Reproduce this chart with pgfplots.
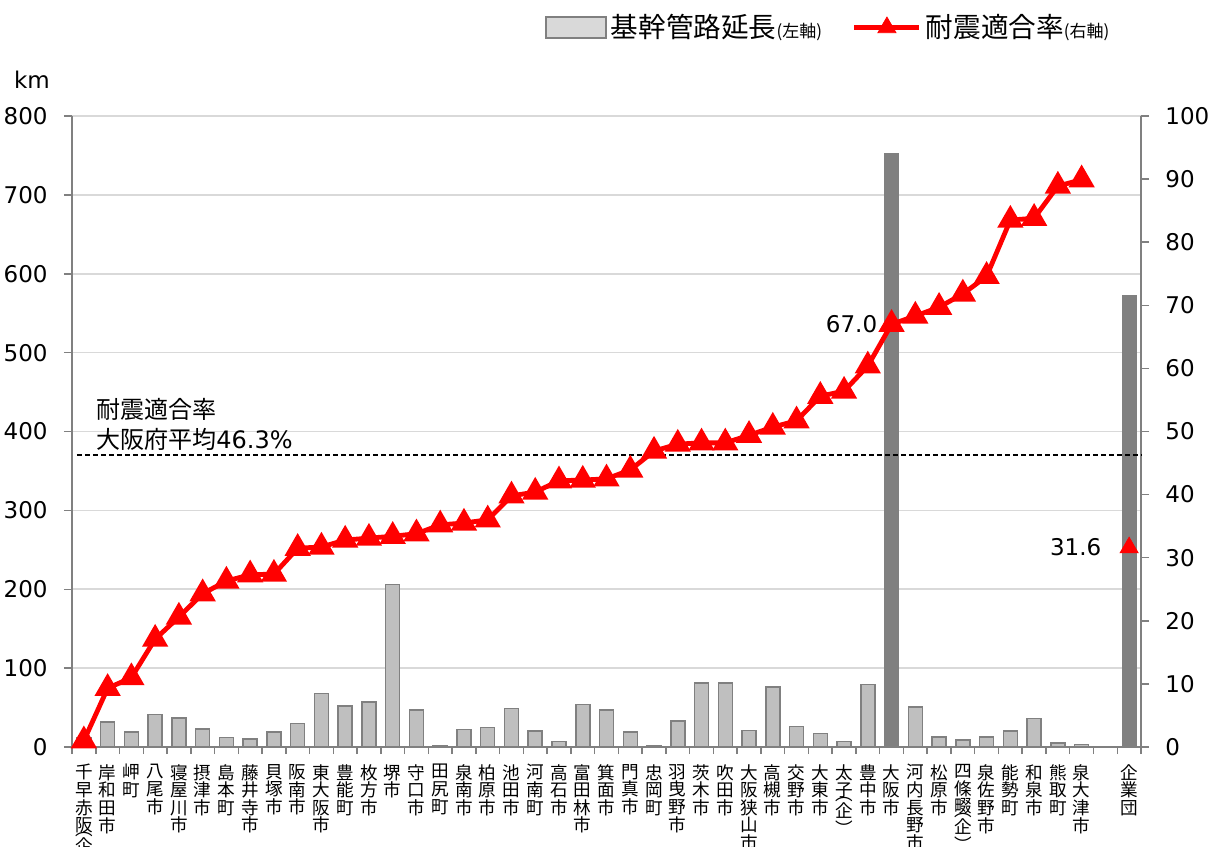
\documentclass[border=0pt]{standalone}
\usepackage{fontspec}
\setmainfont{DejaVu Sans}
\newfontfamily\jp{Noto Sans CJK JP}
\usepackage{pgfplots}
\pgfplotsset{compat=1.18}
\usepackage{pgfplotstable}

% km of trunk mains (left axis), light bars
\pgfplotstableread{
x km
1 12
2 32
3 19
4 41
5 37
6 23
7 12
8 10
9 19
10 30
11 68
12 52
13 57
14 206
15 47
16 2
17 22
18 25
19 49
20 20
21 7
22 54
23 47
24 19
25 1
26 33
27 81
28 81
29 21
30 76
31 26
32 17
33 7
34 79
36 51
37 13
38 9
39 13
40 20
41 36
42 5
43 3
}\lightbars

% highlighted bars (Osaka city, corporation)
\pgfplotstableread{
x km
35 752
45 572
}\darkbars

% seismic conformity rate (right axis)
\pgfplotstableread{
x rate
1 1.0
2 9.3
3 11.0
4 17.1
5 20.6
6 24.3
7 26.3
8 27.3
9 27.4
10 31.5
11 31.7
12 32.8
13 33.1
14 33.4
15 33.8
16 35.2
17 35.5
18 36.0
19 39.8
20 40.4
21 42.2
22 42.3
23 42.5
24 43.9
25 46.9
26 48.0
27 48.2
28 48.2
29 49.4
30 50.7
31 51.7
32 55.6
33 56.4
34 60.4
35 67.0
36 68.3
37 69.7
38 71.8
39 74.6
40 83.5
41 83.8
42 88.9
43 89.9
}\rate

\pgfplotstableread{
x rate
45 31.6
}\rateB

\pgfplotsset{
  common/.style={
    at={(0,0)}, anchor=south west,
    scale only axis, width=534.5pt, height=315.5pt,
    xmin=0.5, xmax=45.5, clip=false,
    axis line style={draw=black!50, line width=0.75pt},
    tick style={draw=black!50, line width=0.75pt},
    tick align=outside, major tick length=4pt,
    /pgf/number format/assume math mode=true,
    yticklabel style={font=\fontsize{11.5}{12}\selectfont},
  },
}

\begin{document}
\begin{tikzpicture}
\begin{axis}[
  common,
  ymin=0, ymax=800, ytick={0,100,...,800},
  axis x line*=bottom, axis y line*=left,
  ymajorgrids, grid style={draw=black!15, line width=0.8pt},
  yticklabel style={xshift=-4.7pt},
  xtick={1,...,45}, minor xtick={0.5,1.5,...,45.5}, minor tick length=3.5pt,
  major x tick style={draw=none},
  xticklabels={
    {千\\早\\赤\\阪\\[-7pt]︵\\企\\︶},
    {岸\\和\\田\\市}, {岬\\町}, {八\\尾\\市}, {寝\\屋\\川\\市}, {摂\\津\\市},
    {島\\本\\町}, {藤\\井\\寺\\市}, {貝\\塚\\市}, {阪\\南\\市}, {東\\大\\阪\\市},
    {豊\\能\\町}, {枚\\方\\市}, {堺\\市}, {守\\口\\市}, {田\\尻\\町},
    {泉\\南\\市}, {柏\\原\\市}, {池\\田\\市}, {河\\南\\町}, {高\\石\\市},
    {富\\田\\林\\市}, {箕\\面\\市}, {門\\真\\市}, {忠\\岡\\町}, {羽\\曳\\野\\市},
    {茨\\木\\市}, {吹\\田\\市}, {大\\阪\\狭\\山\\市}, {高\\槻\\市}, {交\\野\\市},
    {大\\東\\市}, {太\\子\\[-7pt]︵\\企\\︶}, {豊\\中\\市}, {大\\阪\\市},
    {河\\内\\長\\野\\市}, {松\\原\\市}, {四\\條\\畷\\[-7pt]︵\\企\\︶},
    {泉\\佐\\野\\市}, {能\\勢\\町}, {和\\泉\\市}, {熊\\取\\町}, {泉\\大\\津\\市},
    {}, {企\\業\\団}},
  xticklabel style={font=\jp\fontsize{8.8}{8.8}\selectfont, align=center,
    anchor=north, inner sep=0pt, yshift=-4.5pt},
  legend columns=2,
  legend cell align=left,
  legend style={at={(axis description cs:0.4425,1.1403)}, anchor=west,
    draw=none, fill=none, inner sep=0pt,
    font=\jp\fontsize{13.8}{14}\selectfont,
    /tikz/every even column/.append style={column sep=13pt}},
]
\addlegendimage{legend image code/.code={
  \draw[fill=black!15, draw=black!50, line width=0.75pt] (0pt,-5.25pt) rectangle (30pt,5.25pt);}}
\addlegendentry{基幹管路延長{\fontsize{8.5}{9}\selectfont(左軸)}}
\addlegendimage{legend image code/.code={
  \draw[red, line width=2.4pt] (0pt,0pt) -- (32.5pt,0pt);
  \draw[red, mark=triangle*, mark size=5.2pt] plot coordinates {(16.25pt,0pt)};}}
\addlegendentry{耐震適合率{\fontsize{8.5}{9}\selectfont(右軸)}}

\addplot[forget plot, ybar, bar width=7pt, bar shift=0pt, fill=black!25, draw=black!50, line width=0.75pt]
  table[x=x, y=km] {\lightbars};
\addplot[forget plot, ybar, bar width=7pt, bar shift=0pt, fill=black!50, draw=black!50, line width=0.5pt]
  table[x=x, y=km] {\darkbars};

\node[font=\fontsize{11.5}{12}\selectfont] at (rel axis cs:-0.0374,1.057) {km};
\end{axis}

\begin{axis}[
  common,
  ymin=0, ymax=100, ytick={0,10,...,100},
  axis x line=none, axis y line*=right,
  yticklabel style={xshift=4.7pt},
]
\addplot[black, dash pattern=on 2.5pt off 1.5pt, line width=0.8pt] coordinates {(0.7,46.3) (45.5,46.3)};
\addplot[red, line width=2.4pt, mark=triangle*, mark size=5.2pt] table[x=x, y=rate] {\rate};
\addplot[red, only marks, mark=triangle*, mark size=5.2pt] table[x=x, y=rate] {\rateB};

\node[anchor=east, inner sep=0pt, font=\fontsize{11.5}{12}\selectfont, xshift=-7pt] at (axis cs:35,67.0) {67.0};
\node[anchor=east, inner sep=0pt, font=\fontsize{11.5}{12}\selectfont, xshift=-13.75pt] at (axis cs:45,31.6) {31.6};
\node[anchor=south west, align=left, inner sep=0pt, yshift=2pt, font=\fontsize{12}{15}\selectfont]
  at (axis cs:1.51,46.3) {{\jp 耐震適合率}\\{\jp 大阪府平均}46.3\%};
\end{axis}

\pgfresetboundingbox
\path[use as bounding box] (-36pt,-49.5pt) rectangle (570.5pt,373.5pt);
\end{tikzpicture}
\end{document}
